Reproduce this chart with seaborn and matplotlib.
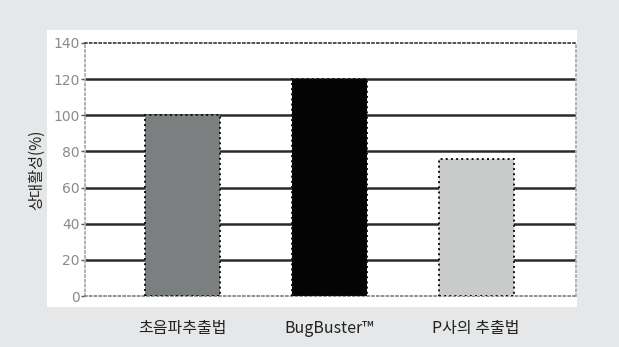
import matplotlib
matplotlib.use("Agg")

import matplotlib.pyplot as plt
import seaborn as sns
import pandas as pd
from matplotlib.patches import Rectangle

# 데이터
categories = ["초음파추출법", "BugBuster™", "P사의 추출법"]
activity = [100, 120, 76]
bar_colors = ["#7b8080", "#040404", "#c9caca"]
yticks = [0, 20, 40, 60, 80, 100, 120, 140]

sns.set_theme(style="white")
plt.rcParams["font.family"] = ["Noto Sans CJK KR", "DejaVu Sans"]

df = pd.DataFrame({"method": categories, "activity": activity})

fig = plt.figure(figsize=(6.19, 3.47), dpi=100)
fig.patch.set_facecolor("#e6e7e8")

# 흰색 패널 (축 뒤에)
fig.patches.append(Rectangle((47 / 619, 40 / 347), 530 / 619, 277 / 347,
                             transform=fig.transFigure, facecolor="white",
                             edgecolor="none", zorder=-5))

ax = fig.add_axes([85 / 619, 51 / 347, 491 / 619, 253 / 347])
ax.set_facecolor("white")

sns.barplot(data=df, x="method", y="activity", hue="method",
            palette=bar_colors, width=0.51, legend=False, ax=ax,
            edgecolor="#111111", linewidth=1.4, linestyle=":", zorder=3)

# 격자선
ax.hlines(yticks[1:-1], -0.66, 2.68, colors="#2a2a2a", linewidth=1.8, zorder=1)

ax.set_xlim(-0.66, 2.68)
ax.set_ylim(0, 140)
ax.set_yticks(yticks)
ax.set_yticklabels([str(t) for t in yticks], color="#8a8a8a", fontsize=10,
                   family=["DejaVu Sans"])
ax.tick_params(axis="y", length=3, width=1, color="#555555", pad=1, left=True)
ax.tick_params(axis="x", length=0, pad=17, labelsize=11.5, labelcolor="#222222")

for side in ["left", "right", "bottom", "top"]:
    ax.spines[side].set_linestyle(":")
    ax.spines[side].set_linewidth(1.3)
ax.spines["top"].set_color("#444444")
ax.spines["bottom"].set_color("#888888")
ax.spines["left"].set_color("#aaaaaa")
ax.spines["right"].set_color("#aaaaaa")

ax.set_xlabel("")
ax.set_ylabel("상대활성(%)", fontsize=11, color="#222222")
ax.yaxis.set_label_coords(-0.082, 0.5)

fig.savefig("out.png", dpi=100)
plt.close(fig)
